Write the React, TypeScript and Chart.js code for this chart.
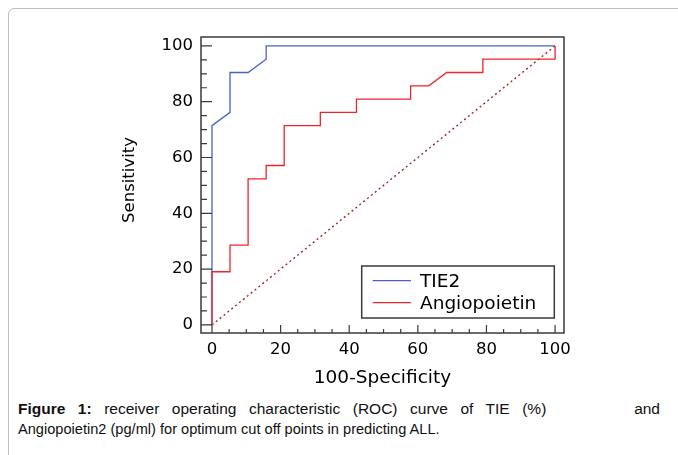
import React, { useEffect, useRef } from "react";
import { Chart, registerables } from "chart.js";

Chart.register(...registerables);

// ROC curve data (100-Specificity vs Sensitivity, %)
const TIE2_FPR = [0, 0, 5.26, 5.26, 10.53, 15.79, 15.79, 100];
const TIE2_TPR = [0, 71.43, 76.19, 90.48, 90.48, 95.24, 100, 100];

const ANG_FPR = [0, 0, 5.26, 5.26, 10.53, 10.53, 15.79, 15.79, 21.05, 21.05, 31.58, 31.58, 42.11, 42.11, 57.89, 57.89, 63.16, 68.42, 78.95, 78.95, 100, 100];
const ANG_TPR = [0, 19.05, 19.05, 28.57, 28.57, 52.38, 52.38, 57.14, 57.14, 71.43, 71.43, 76.19, 76.19, 80.95, 80.95, 85.71, 85.71, 90.48, 90.48, 95.24, 95.24, 100];

const DIAG_X = [0, 100];
const DIAG_Y = [0, 100];

const TICK_VALUES = [0, 5, 10, 15, 20, 25, 30, 35, 40, 45, 50, 55, 60, 65, 70, 75, 80, 85, 90, 95, 100];
const LABELED_TICKS = [0, 20, 40, 60, 80, 100];

const X_RANGE = [-3.2, 102.6];
const Y_RANGE = [-2.9, 103.2];

const SERIES_LABELS = ["TIE2", "Angiopoietin"];
const SERIES_COLORS = ["#4862c4", "#f0242c"];
const DIAG_COLOR = "#9a2a2a";
const X_TITLE = "100-Specificity";
const Y_TITLE = "Sensitivity";

const FONT = "DejaVu Sans";

const toPoints = (xs: number[], ys: number[]) => xs.map((x, i) => ({ x, y: ys[i] }));

const framePlugin = {
  id: "frameTicksLegend",
  afterDraw(chart: any) {
    const { ctx, chartArea: a, scales } = chart;
    ctx.save();
    // frame
    ctx.strokeStyle = "#3a3a3a";
    ctx.lineWidth = 1.5;
    ctx.strokeRect(a.left, a.top, a.right - a.left, a.bottom - a.top);
    // inward tick marks
    ctx.lineWidth = 1.2;
    ctx.beginPath();
    scales.y.ticks.forEach((t: any) => {
      const py = scales.y.getPixelForValue(t.value);
      const len = LABELED_TICKS.includes(t.value) ? 11 : 6;
      ctx.moveTo(a.left, py);
      ctx.lineTo(a.left + len, py);
    });
    scales.x.ticks.forEach((t: any) => {
      const px = scales.x.getPixelForValue(t.value);
      const len = LABELED_TICKS.includes(t.value) ? 8 : 4;
      ctx.moveTo(px, a.bottom);
      ctx.lineTo(px, a.bottom - len);
    });
    ctx.stroke();

    // y axis title
    ctx.save();
    ctx.translate(scales.y.left + 22, (a.top + a.bottom) / 2 - 5);
    ctx.rotate(-Math.PI / 2);
    ctx.font = `16.5px "${FONT}"`;
    ctx.fillStyle = "#000";
    ctx.textAlign = "center";
    ctx.textBaseline = "middle";
    ctx.fillText(Y_TITLE, 0, 0);
    ctx.restore();

    // legend box
    const w = 192.6;
    const h = 52;
    const bx = a.right - 9.7 - w;
    const by = a.bottom - 15 - h;
    ctx.lineWidth = 1.5;
    ctx.strokeStyle = "#3a3a3a";
    ctx.strokeRect(bx, by, w, h);
    const rows = [14.7, 36.7];
    ctx.font = `18.5px "${FONT}"`;
    ctx.textBaseline = "middle";
    ctx.textAlign = "left";
    SERIES_LABELS.forEach((lab, i) => {
      const ry = by + rows[i];
      ctx.strokeStyle = SERIES_COLORS[i];
      ctx.lineWidth = 1.3;
      ctx.beginPath();
      ctx.moveTo(bx + 11, ry);
      ctx.lineTo(bx + 49.3, ry);
      ctx.stroke();
      ctx.fillStyle = "#000";
      ctx.fillText(lab, bx + 58.3, ry + 1);
    });
    ctx.restore();
  },
};

export default function App() {
  const ref = useRef<HTMLCanvasElement>(null);

  useEffect(() => {
    const chart = new Chart(ref.current as HTMLCanvasElement, {
      type: "scatter",
      data: {
        datasets: [
          {
            label: SERIES_LABELS[0],
            data: toPoints(TIE2_FPR, TIE2_TPR),
            showLine: true,
            borderColor: SERIES_COLORS[0],
            backgroundColor: SERIES_COLORS[0],
            borderWidth: 1.3,
            pointRadius: 0,
            tension: 0,
            order: 2,
          },
          {
            label: SERIES_LABELS[1],
            data: toPoints(ANG_FPR, ANG_TPR),
            showLine: true,
            borderColor: SERIES_COLORS[1],
            backgroundColor: SERIES_COLORS[1],
            borderWidth: 1.3,
            pointRadius: 0,
            tension: 0,
            order: 1,
          },
          {
            label: "Reference",
            data: toPoints(DIAG_X, DIAG_Y),
            showLine: true,
            borderColor: DIAG_COLOR,
            backgroundColor: DIAG_COLOR,
            borderWidth: 1.4,
            borderDash: [2, 3],
            pointRadius: 0,
            tension: 0,
            order: 3,
          },
        ],
      },
      options: {
        animation: false,
        responsive: false,
        maintainAspectRatio: false,
        layout: { padding: { left: 100, top: 29, right: 114, bottom: 5 } },
        plugins: { legend: { display: false }, tooltip: { enabled: false } },
        scales: {
          x: {
            type: "linear",
            position: "bottom",
            min: X_RANGE[0],
            max: X_RANGE[1],
            afterBuildTicks: (s: any) => {
              s.ticks = TICK_VALUES.map((v) => ({ value: v }));
            },
            afterFit: (s: any) => {
              s.height = 60;
            },
            grid: { display: false, drawTicks: false },
            border: { display: false },
            ticks: {
              autoSkip: false,
              maxRotation: 0,
              padding: 7,
              color: "#000",
              font: { family: FONT, size: 16.5 },
              callback: (v: any) => (LABELED_TICKS.includes(Number(v)) ? String(v) : ""),
            },
            title: {
              display: true,
              text: X_TITLE,
              color: "#000",
              font: { family: FONT, size: 18.5 },
              padding: { top: 0, bottom: 4 },
            },
          },
          y: {
            type: "linear",
            position: "left",
            min: Y_RANGE[0],
            max: Y_RANGE[1],
            afterBuildTicks: (s: any) => {
              s.ticks = TICK_VALUES.map((v) => ({ value: v }));
            },
            afterFit: (s: any) => {
              s.width = 93;
            },
            grid: { display: false, drawTicks: false },
            border: { display: false },
            ticks: {
              autoSkip: false,
              padding: 8,
              color: "#000",
              font: { family: FONT, size: 16.5 },
              callback: (v: any) => (LABELED_TICKS.includes(Number(v)) ? String(v) : ""),
            },
            title: { display: false, text: Y_TITLE },
          },
        },
      },
      plugins: [framePlugin],
    } as any);
    return () => chart.destroy();
  }, []);

  return (
    <div
      style={{
        position: "fixed",
        left: 8,
        top: 8,
        width: 670,
        height: 447,
        overflow: "hidden",
        background: "#fff",
      }}
    >
      <div
        style={{
          position: "absolute",
          left: 0,
          top: 0,
          width: 720,
          height: 520,
          border: "1px solid #bdbdbd",
          borderRadius: 6,
          boxSizing: "border-box",
        }}
      />
      <canvas
        ref={ref}
        width={670}
        height={390}
        style={{ position: "absolute", left: 0, top: 0, width: 670, height: 390 }}
      />
      <div
        style={{
          position: "absolute",
          left: 10,
          top: 390,
          width: 642,
          fontFamily: '"Liberation Sans", Arial, sans-serif',
          lineHeight: "21px",
          color: "#111",
        }}
      >
        <div
          style={{
            display: "flex",
            justifyContent: "space-between",
            fontSize: 15.5,
            wordSpacing: 8.2,
            whiteSpace: "nowrap",
          }}
        >
          <span>
            <b>Figure 1:</b> receiver operating characteristic (ROC) curve of TIE (%)
          </span>
          <span>and</span>
        </div>
        <div style={{ fontSize: 14.6, whiteSpace: "nowrap" }}>
          Angiopoietin2 (pg/ml) for optimum cut off points in predicting ALL.
        </div>
      </div>
    </div>
  );
}
